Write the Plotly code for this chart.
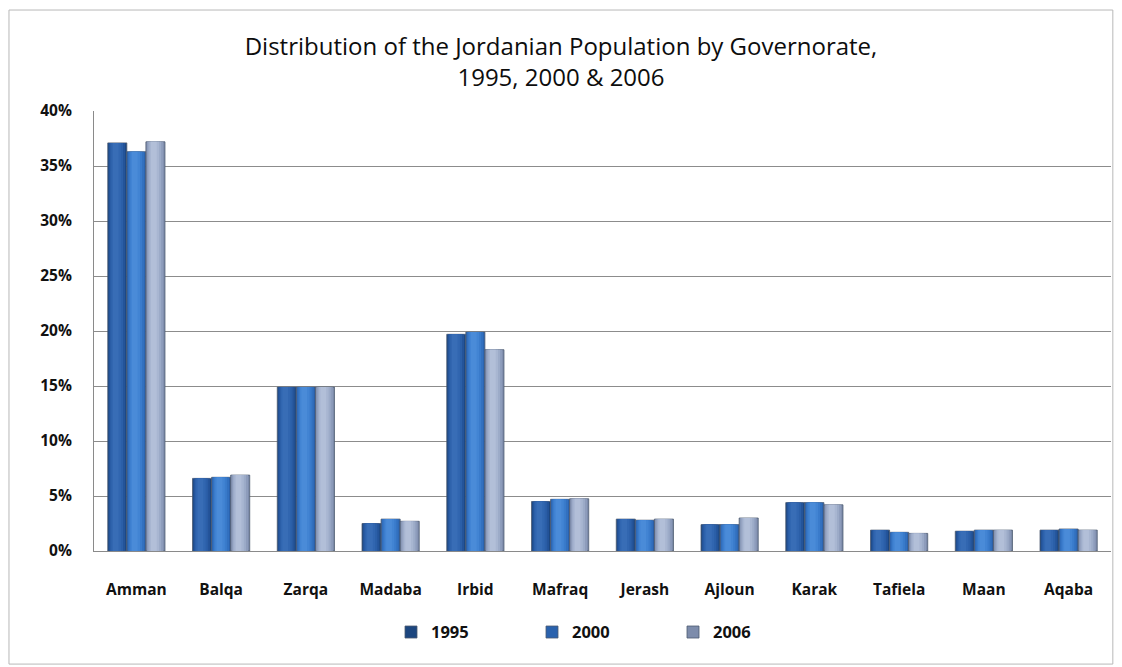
import plotly.graph_objects as go

# Share of the Jordanian population (percent) by governorate
governorates = ["Amman", "Balqa", "Zarqa", "Madaba", "Irbid", "Mafraq",
                "Jerash", "Ajloun", "Karak", "Tafiela", "Maan", "Aqaba"]
years = ["1995", "2000", "2006"]
pop_1995 = [37.1, 6.6, 14.9, 2.5, 19.7, 4.5, 2.9, 2.4, 4.4, 1.9, 1.8, 1.9]
pop_2000 = [36.3, 6.7, 14.9, 2.9, 19.9, 4.7, 2.8, 2.4, 4.4, 1.7, 1.9, 2.0]
pop_2006 = [37.2, 6.9, 14.9, 2.7, 18.3, 4.75, 2.9, 3.0, 4.2, 1.6, 1.9, 1.9]
y_ticks = [0, 5, 10, 15, 20, 25, 30, 35, 40]

series = [pop_1995, pop_2000, pop_2006]
# shading ramps (edge -> centre) giving each bar a rounded, cylinder look
ramps = [
    ["#1c467f", "#24549a", "#2b5fa8", "#3166b0", "#386db6"],
    ["#2a62ad", "#3270bf", "#3a7bcb", "#4284d3", "#4a8bd8"],
    ["#7d8cab", "#8d9cbb", "#9cabc8", "#a8b6d1", "#b2bfd8"],
]
layer_scale = [1.0, 0.86, 0.68, 0.5, 0.3]

group_width = 0.675
bar_w = group_width / 3
FONT = "'Open Sans', Lato, sans-serif"

fig = go.Figure()
for k, (vals, year, ramp) in enumerate(zip(series, years, ramps)):
    centre = (k - 1) * bar_w  # centre of this series within the group
    yvals = [v / 100 for v in vals]
    for j, (col, sc) in enumerate(zip(ramp, layer_scale)):
        w = bar_w * sc
        # highlight sits slightly left of centre
        shift = -0.12 * bar_w * (1 - sc) if j > 0 else 0
        fig.add_trace(go.Bar(
            x=governorates, y=yvals,
            width=w, offset=centre - w / 2 + shift,
            marker=dict(color=col,
                        line=dict(color="#4c5a70" if j == 0 else col,
                                  width=0.8 if j == 0 else 0)),
            name=year, legendgroup=year, showlegend=(j == 0),
            hovertemplate="%{x} " + year + ": %{y:.1%}<extra></extra>",
        ))

fig.update_layout(
    width=1122, height=667,
    barmode="overlay",
    paper_bgcolor="white", plot_bgcolor="white",
    font=dict(family=FONT, color="#111111"),
    margin=dict(l=94, r=11, t=111, b=116),
    title=dict(
        text="Distribution of the Jordanian Population by Governorate,<br>1995, 2000 & 2006",
        x=0.5, xanchor="center", yref="container", y=0.918, yanchor="middle",
        font=dict(size=24, family=FONT, color="#0d0d0d"),
    ),
    legend=dict(
        orientation="h", x=0.5, xanchor="center", y=-0.145, yanchor="top",
        font=dict(size=16.5, family=FONT, color="#111111", weight="bold"),
        itemwidth=30, entrywidth=96, traceorder="normal",
        bgcolor="rgba(0,0,0,0)",
    ),
    shapes=[dict(type="rect", xref="paper", yref="paper",
                 x0=-0.0836, x1=1.0018, y0=-0.257, y1=1.2295,
                 line=dict(color="#b8b8b8", width=1), fillcolor="rgba(0,0,0,0)",
                 layer="below")],
)

fig.update_xaxes(
    type="category", categoryorder="array", categoryarray=governorates,
    showgrid=False, showline=True, linecolor="#8a8a8a", linewidth=1,
    ticks="", ticklabelstandoff=24,
    tickfont=dict(size=15.5, family=FONT, color="#111111", weight="bold"),
)
fig.update_yaxes(
    range=[0, 0.40], tickvals=[t / 100 for t in y_ticks], tickformat=".0%",
    showgrid=True, gridcolor="#8c8c8c", gridwidth=1, zeroline=False,
    showline=True, linecolor="#8a8a8a", linewidth=1,
    ticks="", ticklabelstandoff=18,
    tickfont=dict(size=15.5, family=FONT, color="#111111", weight="bold"),
)

fig.write_html("out.html")
